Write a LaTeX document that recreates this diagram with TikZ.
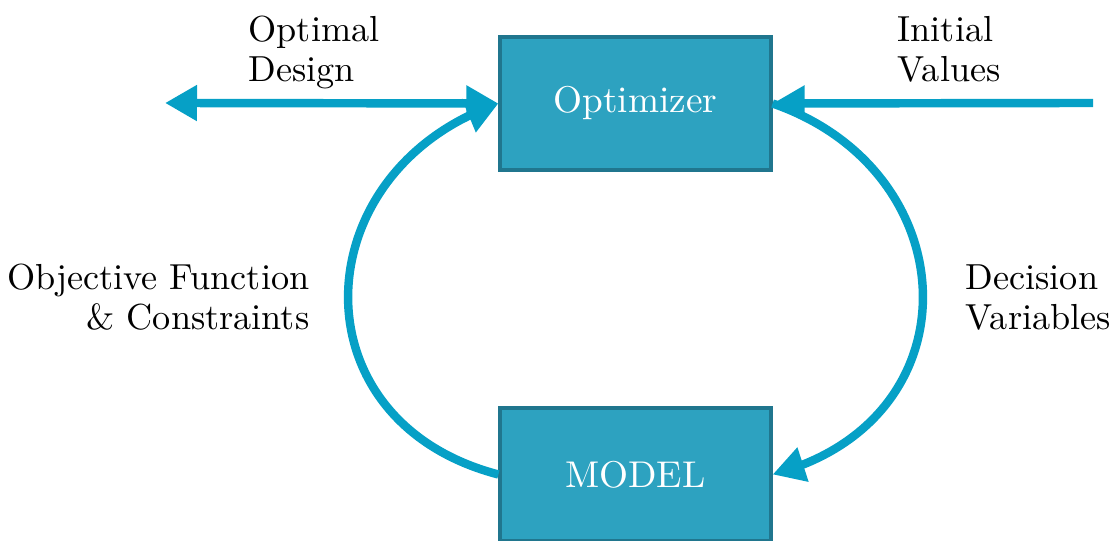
\documentclass[tikz,border=0pt]{standalone}
\usetikzlibrary{arrows.meta,bending}
\definecolor{boxfill}{RGB}{45,162,192}
\definecolor{boxline}{RGB}{32,118,142}
\definecolor{flow}{RGB}{6,160,198}
\tikzset{
  block/.style={draw=boxline, line width=0.9pt, fill=boxfill, text=white,
    minimum width=2.71cm, minimum height=1.33cm, inner sep=0pt,
    font=\fontsize{10.6}{11.6}\selectfont},
  flowline/.style={draw=flow, line width=2.4pt,
    >={Triangle[length=0.32cm,width=0.34cm]}},
  note/.style={inner sep=0pt, font=\fontsize{10.3}{11.6}\selectfont}
}
\begin{document}
\begin{tikzpicture}
  \clip (0,0) rectangle (11.18,5.41);
  \node[block] (opt) at (6.355,4.375) {Optimizer};
  \node[block] (model) at (6.355,0.665) {MODEL};
  \coordinate (design) at (1.65,4.38);
  \coordinate (init) at (10.93,4.38);
  \node[note, anchor=base west, align=left] (optlbl) at (2.48,4.59) {Optimal\\Design};
  \node[note, anchor=base west, align=left] (initlbl) at (8.97,4.59) {Initial\\Values};
  \node[note, anchor=base east, align=right] (objlbl) at (3.10,2.11) {Objective Function\\\& Constraints};
  \node[note, anchor=base west, align=left] (declbl) at (9.65,2.11) {Decision\\Variables};
  \begin{scope}[flowline]
    \draw[<->] (design) -- (opt.west);
    \draw[->] (init) -- (opt.east);
    \draw[->] (model.west) .. controls (2.93,1.2) and (3.03,3.7) .. (opt.west);
    \draw[->] (opt.east) .. controls (9.68,3.7) and (9.78,1.2) .. (model.east);
  \end{scope}
\end{tikzpicture}
\end{document}
